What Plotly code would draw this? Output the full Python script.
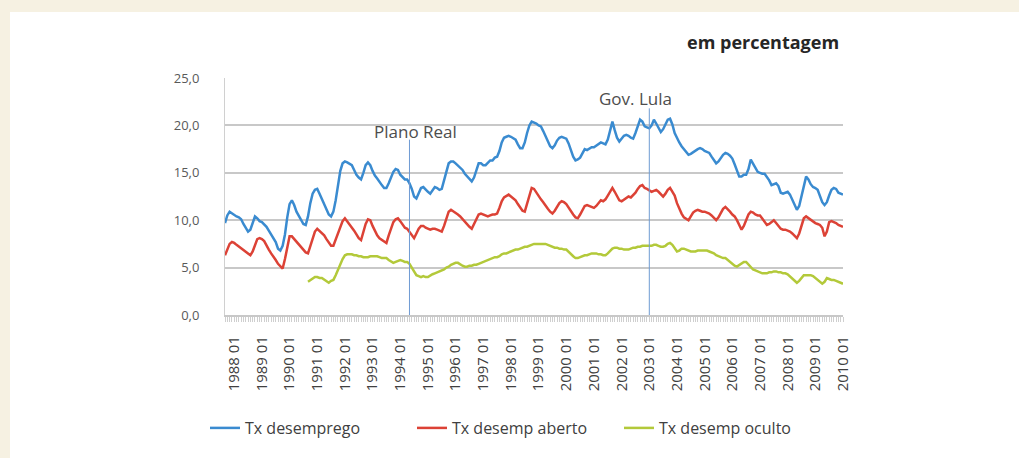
import pandas as pd
import plotly.graph_objects as go

# Meses (categorias do eixo x): 1987 09 .. 2010 01
MESES = [f"{d.year} {d.month:02d}" for d in pd.date_range("1987-09-01", "2010-01-01", freq="MS")]

# Taxas mensais (%), uma linha por ano
TX_DESEMPREGO = [
    9.7, 10.5, 10.9, 10.7,                                                # 1987
    10.5, 10.4, 10.3, 10.1, 9.6, 9.2, 8.8, 9.0, 9.8, 10.4, 10.2, 9.9,     # 1988
    9.8, 9.6, 9.3, 8.9, 8.5, 8.1, 7.7, 7.0, 6.8, 7.3, 8.5, 10.3,          # 1989
    11.7, 12.1, 11.6, 10.9, 10.5, 10.0, 9.6, 9.5, 10.4, 11.8, 12.8, 13.2,  # 1990
    13.3, 12.8, 12.2, 11.6, 11.0, 10.6, 10.4, 10.9, 12.1, 13.8, 15.2, 16.0,  # 1991
    16.2, 16.1, 15.9, 15.8, 15.3, 14.8, 14.5, 14.3, 15.0, 15.8, 16.1, 15.8,  # 1992
    15.2, 14.7, 14.4, 14.0, 13.7, 13.4, 13.4, 13.9, 14.5, 15.1, 15.4, 15.3,  # 1993
    14.8, 14.5, 14.3, 14.3, 13.9, 13.3, 12.5, 12.3, 12.8, 13.4, 13.5, 13.2,  # 1994
    13.0, 12.8, 13.1, 13.5, 13.4, 13.2, 13.3, 14.3, 15.3, 16.0, 16.2, 16.2,  # 1995
    16.0, 15.8, 15.5, 15.3, 14.9, 14.6, 14.3, 14.1, 14.5, 15.3, 16.0, 16.0,  # 1996
    15.8, 15.8, 16.1, 16.3, 16.3, 16.6, 16.7, 17.3, 18.2, 18.7, 18.8, 18.9,  # 1997
    18.8, 18.6, 18.5, 18.0, 17.6, 17.6, 18.2, 19.2, 20.0, 20.4, 20.3, 20.2,  # 1998
    20.0, 19.9, 19.4, 18.8, 18.2, 17.8, 17.6, 17.9, 18.4, 18.7, 18.8, 18.7,  # 1999
    18.6, 18.1, 17.4, 16.7, 16.3, 16.4, 16.6, 17.0, 17.5, 17.4, 17.6, 17.7,  # 2000
    17.7, 17.9, 18.1, 18.2, 18.1, 18.0, 18.5, 19.6, 20.4, 19.5, 18.7, 18.3,  # 2001
    18.6, 18.9, 19.0, 18.9, 18.7, 18.6, 19.2, 20.0, 20.6, 20.4, 19.9, 19.8,  # 2002
    19.7, 20.0, 20.6, 20.2, 19.7, 19.3, 19.6, 20.2, 20.6, 20.7, 20.1, 19.2,  # 2003
    18.6, 18.2, 17.8, 17.5, 17.2, 16.9, 17.0, 17.2, 17.4, 17.5, 17.6, 17.5,  # 2004
    17.3, 17.2, 17.1, 16.7, 16.3, 16.0, 16.2, 16.6, 16.9, 17.1, 17.0, 16.8,  # 2005
    16.5, 15.9, 15.2, 14.6, 14.6, 14.8, 14.8, 15.4, 16.4, 16.0, 15.5, 15.1,  # 2006
    15.0, 14.9, 14.9, 14.6, 14.2, 13.7, 13.8, 13.9, 13.6, 12.9, 12.8, 12.9,  # 2007
    13.0, 12.7, 12.2, 11.6, 11.1, 11.5, 12.6, 13.8, 14.6, 14.3, 13.8, 13.5,  # 2008
    13.4, 13.2, 12.5, 11.9, 11.6, 11.9, 12.6, 13.2, 13.4, 13.3, 12.9, 12.8,  # 2009
    12.7,                                                                  # 2010
]

TX_ABERTO = [
    6.3, 7.0, 7.5, 7.7,
    7.6, 7.4, 7.2, 7.0, 6.8, 6.6, 6.4, 6.3, 6.7, 7.4, 8.0, 8.1,
    8.0, 7.8, 7.3, 6.9, 6.5, 6.2, 5.8, 5.4, 5.1, 4.9, 5.9, 7.3,
    8.3, 8.3, 8.0, 7.8, 7.5, 7.2, 6.9, 6.6, 6.5, 7.2, 8.1, 8.8,
    9.1, 8.9, 8.7, 8.4, 8.0, 7.6, 7.3, 7.3, 7.9, 8.6, 9.3, 9.9,
    10.2, 9.9, 9.6, 9.3, 8.9, 8.5, 8.1, 7.9, 8.8, 9.6, 10.1, 10.0,
    9.4, 8.8, 8.4, 8.1, 7.9, 7.7, 7.6, 8.4, 9.2, 9.8, 10.1, 10.2,
    9.9, 9.5, 9.2, 9.1, 8.8, 8.4, 8.1, 8.6, 9.1, 9.4, 9.4, 9.2,
    9.1, 9.0, 9.1, 9.1, 9.0, 8.9, 8.8, 9.4, 10.3, 10.9, 11.1, 10.9,
    10.8, 10.6, 10.4, 10.1, 9.8, 9.5, 9.3, 9.1, 9.6, 10.2, 10.6, 10.7,
    10.6, 10.5, 10.4, 10.5, 10.6, 10.6, 10.7, 11.3, 12.0, 12.4, 12.6, 12.7,
    12.5, 12.3, 12.1, 11.7, 11.3, 11.0, 10.9, 11.8, 12.8, 13.4, 13.3, 12.9,
    12.6, 12.2, 11.9, 11.5, 11.2, 10.9, 10.7, 11.0, 11.4, 11.8, 12.0, 11.9,
    11.7, 11.3, 10.9, 10.6, 10.3, 10.2, 10.6, 11.0, 11.5, 11.6, 11.5, 11.4,
    11.3, 11.5, 11.8, 12.1, 12.0, 12.2, 12.6, 13.0, 13.4, 13.0, 12.5, 12.1,
    12.0, 12.2, 12.4, 12.5, 12.4, 12.6, 12.9, 13.3, 13.6, 13.7, 13.4, 13.3,
    13.1, 13.0, 13.1, 13.2, 13.0, 12.7, 12.5, 12.8, 13.2, 13.4, 13.0, 12.6,
    11.8, 11.2, 10.7, 10.3, 10.1, 10.0, 10.4, 10.8, 11.0, 11.1, 11.0, 10.9,
    10.9, 10.8, 10.7, 10.5, 10.2, 10.0, 10.3, 10.8, 11.2, 11.4, 11.2, 10.9,
    10.6, 10.4, 10.0, 9.5, 9.0, 9.4, 10.0, 10.6, 10.9, 10.8, 10.6, 10.5,
    10.5, 10.2, 9.8, 9.5, 9.6, 9.8, 10.0, 9.7, 9.4, 9.1, 9.0, 9.0,
    8.9, 8.8, 8.6, 8.4, 8.1, 8.6, 9.5, 10.2, 10.4, 10.2, 10.0, 9.8,
    9.7, 9.6, 9.5, 9.2, 8.3, 8.8, 9.8, 9.9, 9.8, 9.7, 9.5, 9.4,
    9.3,
]

# série oculta começa só em 1990
TX_OCULTO = [None] * 36 + [
    3.5, 3.7, 3.9, 4.0,                                          # 1990 09-12
    4.0, 3.9, 3.9, 3.7, 3.5, 3.4, 3.6, 3.7, 4.2, 4.8, 5.4, 5.9,
    6.3, 6.4, 6.4, 6.4, 6.3, 6.3, 6.2, 6.2, 6.1, 6.1, 6.1, 6.2,
    6.2, 6.2, 6.2, 6.1, 6.0, 6.0, 6.0, 5.8, 5.6, 5.5, 5.6, 5.7,
    5.8, 5.7, 5.6, 5.6, 5.4, 5.0, 4.6, 4.2, 4.1, 4.0, 4.1, 4.0,
    4.0, 4.2, 4.3, 4.4, 4.5, 4.6, 4.7, 4.8, 5.0, 5.1, 5.3, 5.4,
    5.5, 5.5, 5.3, 5.2, 5.1, 5.1, 5.2, 5.2, 5.3, 5.3, 5.4, 5.5,
    5.6, 5.7, 5.8, 5.9, 6.0, 6.1, 6.1, 6.2, 6.4, 6.5, 6.5, 6.6,
    6.7, 6.8, 6.9, 6.9, 7.0, 7.1, 7.2, 7.2, 7.3, 7.4, 7.5, 7.5,
    7.5, 7.5, 7.5, 7.5, 7.4, 7.3, 7.2, 7.1, 7.1, 7.0, 7.0, 6.9,
    6.9, 6.7, 6.5, 6.2, 6.0, 6.0, 6.1, 6.2, 6.3, 6.3, 6.4, 6.5,
    6.5, 6.5, 6.4, 6.4, 6.3, 6.3, 6.5, 6.8, 7.0, 7.1, 7.1, 7.0,
    7.0, 6.9, 6.9, 6.9, 7.0, 7.1, 7.1, 7.2, 7.2, 7.3, 7.3, 7.3,
    7.3, 7.3, 7.4, 7.4, 7.3, 7.2, 7.2, 7.3, 7.5, 7.6, 7.4, 7.0,
    6.7, 6.8, 7.0, 7.0, 6.9, 6.8, 6.7, 6.7, 6.7, 6.8, 6.8, 6.8,
    6.8, 6.8, 6.7, 6.6, 6.5, 6.3, 6.2, 6.1, 6.0, 6.0, 5.8, 5.6,
    5.4, 5.2, 5.1, 5.3, 5.5, 5.6, 5.6, 5.3, 5.0, 4.8, 4.7, 4.6,
    4.5, 4.4, 4.4, 4.4, 4.5, 4.5, 4.6, 4.6, 4.5, 4.5, 4.4, 4.4,
    4.3, 4.1, 3.9, 3.6, 3.4, 3.6, 3.9, 4.2, 4.2, 4.2, 4.2, 4.1,
    3.9, 3.6, 3.4, 3.3, 3.5, 3.9, 3.8, 3.7, 3.7, 3.6, 3.5, 3.4,
    3.3,
]

SERIES = ["Tx desemprego", "Tx desemp aberto", "Tx desemp oculto"]
CORES = ["#3a8bd0", "#dc4236", "#b3c93a"]

# marcos: mês, rótulo, topo da linha, altura do texto, deslocamento do texto (px)
MARCOS = [("1994 05", "Plano Real", 18.5, 19.4, 6), ("2003 01", "Gov. Lula", 21.8, 22.8, -14)]

W, H = 1019, 458
ML, MR, MT, MB = 225, 176, 78, 143
PW, PH = W - ML - MR, H - MT - MB
FONT = "Open Sans"

fig = go.Figure()
for nome, ys, cor in zip(SERIES, [TX_DESEMPREGO, TX_ABERTO, TX_OCULTO], CORES):
    fig.add_trace(go.Scatter(x=MESES, y=ys, name=nome, mode="lines",
                             line=dict(color=cor, width=2.5), connectgaps=False))

# painel branco sobre fundo bege
fig.add_shape(type="rect", xref="paper", yref="paper",
              x0=(10 - ML) / PW, x1=(W + 5 - ML) / PW,
              y0=-(MB + 5) / PH, y1=(H - MB - 12) / PH,
              fillcolor="white", line_width=0, layer="below")

for mes, rotulo, topo, ytxt, dx in MARCOS:
    fig.add_shape(type="line", x0=mes, x1=mes, y0=0, y1=topo,
                  line=dict(color="#6f9bd3", width=1))
    fig.add_annotation(x=mes, y=ytxt, text=rotulo, showarrow=False, xshift=dx,
                       font=dict(family=FONT, size=17, color="#4d4d4d"))

fig.add_annotation(x=(841 - ML) / PW, y=(H - MB - 42) / PH, xref="paper", yref="paper",
                   xanchor="right", yanchor="middle", showarrow=False,
                   text="<b>em percentagem</b>",
                   font=dict(family=FONT, size=18, color="#262626"))

fig.update_layout(
    width=W, height=H,
    margin=dict(l=ML, r=MR, t=MT, b=MB),
    paper_bgcolor="#f6f1e2", plot_bgcolor="white",
    separators=",.",
    font=dict(family=FONT, color="#404040"),
    showlegend=True,
    legend=dict(orientation="h", x=(205 - ML) / PW, y=(315 - 428) / PH,
                xanchor="left", yanchor="middle",
                font=dict(family=FONT, size=16, color="#404040"),
                itemwidth=30, entrywidth=162, bgcolor="rgba(0,0,0,0)"),
    xaxis=dict(type="category", range=[0, len(MESES) - 1],
               tickvals=MESES,
               ticktext=[m if m.endswith(" 01") else "" for m in MESES],
               tickangle=-90, ticks="outside", ticklen=5, tickwidth=1, tickcolor="#cfcfcf",
               ticklabelstandoff=8,
               showgrid=False, showline=True, linecolor="#c8c8c8", linewidth=2,
               tickfont=dict(family=FONT, size=15, color="#404040")),
    yaxis=dict(range=[0, 25], dtick=5, tickformat=".1f",
               showgrid=True, gridcolor="#c8c8c8", gridwidth=1.5,
               showline=True, linecolor="#d0d0d0", linewidth=1,
               zeroline=False, ticklabelstandoff=22,
               tickfont=dict(family=FONT, size=13, color="#595959")),
)

# a página tem margem de 8 px no body; zera para a figura ocupar a janela
fig.write_html("out.html", config={"displayModeBar": False},
               post_script="document.body.style.margin='0';")
